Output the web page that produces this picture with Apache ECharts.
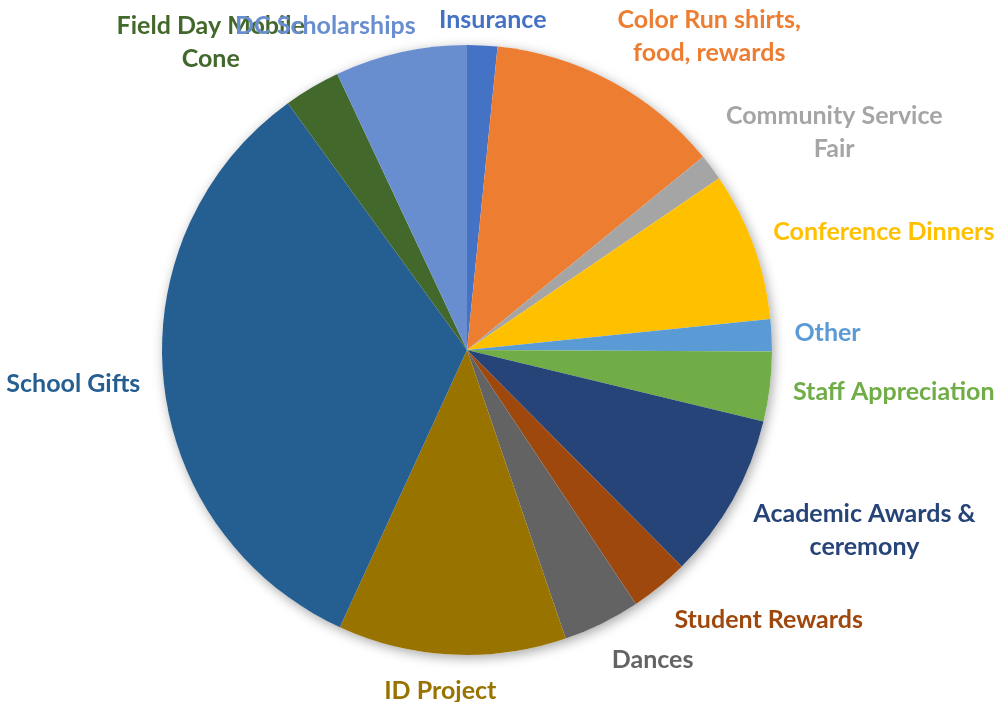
<!DOCTYPE html>
<html>
<head>
<meta charset="utf-8">
<script src="https://cdn.jsdelivr.net/npm/echarts@6/dist/echarts.min.js"></script>
<style>
html,body{margin:0;padding:0;background:#fff;}
#chart{width:999px;height:702px;}
</style>
</head>
<body>
<div id="chart"></div>
<script>
const categories = [
  "Insurance",
  "Color Run shirts,\nfood, rewards",
  "Community Service\nFair",
  "Conference Dinners",
  "Other",
  "Staff Appreciation",
  "Academic Awards &\nceremony",
  "Student Rewards",
  "Dances",
  "ID Project",
  "School Gifts",
  "Field Day Mobile\nCone",
  "DC Scholarships"
];
const values = [1.6, 12.5, 1.4, 7.9, 1.7, 3.7, 8.8, 3.1, 4.1, 12.1, 33.2, 3.0, 7.0];
const colors = ["#4472C4", "#ED7D31", "#A5A5A5", "#FFC000", "#5B9BD5", "#70AD47",
                "#264478", "#9E480E", "#636363", "#997300", "#255E91", "#43682B", "#698ED0"];

const CX = 467, CY = 350, R = 305, KX = 3.7, KY = 1.2;

const total = values.reduce((a, b) => a + b, 0);
const midAngles = [];
let acc = 0;
values.forEach(v => {
  midAngles.push((acc + v / 2) / total * 2 * Math.PI);
  acc += v;
});

const chart = echarts.init(document.getElementById('chart'));
const clamp = v => Math.max(-1, Math.min(1, v));

chart.setOption({
  backgroundColor: '#ffffff',
  animation: false,
  series: [
    {
      type: 'pie',
      silent: true,
      center: [CX, CY],
      radius: R,
      z: 1,
      label: { show: false },
      labelLine: { show: false },
      itemStyle: { color: '#ffffff', shadowBlur: 12, shadowColor: 'rgba(0,0,0,0.35)', shadowOffsetX: 2, shadowOffsetY: 3 },
      data: [{ value: 1, name: 'bg' }]
    },
    {
      type: 'pie',
      center: [CX, CY],
      radius: R,
      z: 2,
      startAngle: 90,
      clockwise: true,
      avoidLabelOverlap: false,
      label: {
        show: true,
        position: 'outside',
        fontFamily: 'Lato',
        fontWeight: 'bold',
        fontSize: 25,
        lineHeight: 33,
        align: 'center'
      },
      labelLine: { show: false },
      labelLayout: function (p) {
        const i = p.dataIndex;
        const th = midAngles[i];
        const s = Math.sin(th), c = Math.cos(th);
        const cp = Math.max(0, c);
        const gap = 17 - 3 * c + 6 * Math.abs(s) - 5 * cp * cp;
        const px = CX + (R + gap) * s;
        const py = CY - (R + gap) * c;
        const w = p.labelRect.width, h = p.labelRect.height;
        return {
          x: px + w / 2 * clamp(KX * s),
          y: py - h / 2 * clamp(KY * c),
          align: 'center',
          verticalAlign: 'middle'
        };
      },
      data: categories.map((n, i) => ({
        name: n,
        value: values[i],
        itemStyle: { color: colors[i] },
        label: { color: colors[i] }
      }))
    }
  ]
});
</script>
</body>
</html>
